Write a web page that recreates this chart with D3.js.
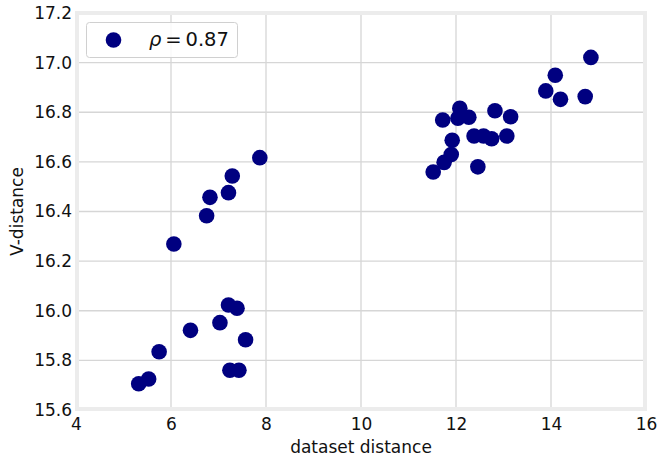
<!DOCTYPE html>
<html>
<head>
<meta charset="utf-8">
<script src="https://cdn.jsdelivr.net/npm/d3@7"></script>
<style>
  body { margin: 0; background: #fff; }
  text { font-family: "DejaVu Sans", sans-serif; fill: #111; }
</style>
</head>
<body>
<div id="chart"></div>
<script>
const xVals = [
  5.32, 5.53, 5.75, 6.06, 6.41, 6.75, 6.82, 7.03, 7.21, 7.21, 7.24, 7.29, 7.39, 7.43, 7.57, 7.87,
  11.52, 11.75, 11.90, 11.92, 11.72, 12.04, 12.08, 12.27, 12.38, 12.58, 12.75, 12.46, 12.82, 13.07,
  13.15, 13.89, 14.09, 14.20, 14.72, 14.84
];
const yVals = [
  15.706, 15.725, 15.835, 16.269, 15.921, 16.383, 16.457, 15.952, 16.476, 16.023, 15.760, 16.543, 16.010, 15.760, 15.883, 16.617,
  16.559, 16.598, 16.630, 16.687, 16.769, 16.776, 16.816, 16.780, 16.704, 16.704, 16.693, 16.580, 16.806, 16.704,
  16.782, 16.886, 16.949, 16.852, 16.863, 17.021
];
const xTicks = [4, 6, 8, 10, 12, 14, 16];
const yTicks = [15.6, 15.8, 16.0, 16.2, 16.4, 16.6, 16.8, 17.0, 17.2];
const legendLabel = '0.87';

const W = 657, H = 460;
const svg = d3.select('#chart').append('svg')
  .attr('width', W)
  .attr('height', H);

const x = d3.scaleLinear().domain([4, 16]).range([76, 646]);
const y = d3.scaleLinear().domain([15.6, 17.2]).range([410, 13]);

const gGrid = svg.append('g');
xTicks.forEach((t) => {
  gGrid.append('line')
    .attr('x1', x(t)).attr('x2', x(t))
    .attr('y1', y.range()[0]).attr('y2', y.range()[1])
    .attr('stroke', '#d6d6d6')
    .attr('stroke-width', 1.3);
});
yTicks.forEach((t) => {
  gGrid.append('line')
    .attr('x1', x.range()[0]).attr('x2', x.range()[1])
    .attr('y1', y(t)).attr('y2', y(t))
    .attr('stroke', '#d6d6d6')
    .attr('stroke-width', 1.3);
});

// frame
svg.append('rect')
  .attr('x', x.range()[0] + 1)
  .attr('y', y.range()[1])
  .attr('width', x.range()[1] - x.range()[0] - 2)
  .attr('height', y.range()[0] - y.range()[1] - 1)
  .attr('fill', 'none')
  .attr('stroke', '#ececec')
  .attr('stroke-width', 4);

// tick labels
const gX = svg.append('g')
  .attr('transform', `translate(0,${y.range()[0] + 7})`)
  .call(d3.axisBottom(x).tickValues(xTicks).tickFormat(d3.format('d')).tickSize(0).tickPadding(0));
const gY = svg.append('g')
  .attr('transform', `translate(${x.range()[0] - 4},0)`)
  .call(d3.axisLeft(y).tickValues(yTicks).tickFormat(d3.format('.1f')).tickSize(0).tickPadding(0));
[gX, gY].forEach((g) => {
  g.select('.domain').remove();
  g.selectAll('text')
    .attr('font-size', 17)
    .attr('font-family', '"DejaVu Sans", sans-serif')
    .attr('fill', '#111');
});
gY.selectAll('text').attr('dy', '0.32em');
gX.selectAll('text').attr('dy', '0.78em');

// points
svg.append('g').selectAll('circle')
  .data(xVals.map((v, i) => [v, yVals[i]]))
  .join('circle')
  .attr('cx', (d) => x(d[0]))
  .attr('cy', (d) => y(d[1]))
  .attr('r', 7.8)
  .attr('fill', '#000080');

// axis titles
svg.append('text')
  .attr('x', (x.range()[0] + x.range()[1]) / 2)
  .attr('y', 453)
  .attr('text-anchor', 'middle')
  .attr('font-size', 17)
  .text('dataset distance');

svg.append('text')
  .attr('transform', `translate(23,${(y.range()[0] + y.range()[1]) / 2}) rotate(-90)`)
  .attr('text-anchor', 'middle')
  .attr('font-size', 17)
  .text('V-distance');

// legend
const lg = svg.append('g');
lg.append('rect')
  .attr('x', 86.5).attr('y', 22.5)
  .attr('width', 151).attr('height', 35)
  .attr('rx', 3)
  .attr('fill', '#fff')
  .attr('fill-opacity', 0.85)
  .attr('stroke', '#d0d0d0');
lg.append('circle')
  .attr('cx', 113.5).attr('cy', 40)
  .attr('r', 7.8)
  .attr('fill', '#000080');
const lt = lg.append('text')
  .attr('x', 149).attr('y', 46)
  .attr('font-size', 19.5);
lt.append('tspan').attr('font-style', 'italic').text('ρ');
lt.append('tspan').text('\u2009=\u2009' + legendLabel);
</script>
</body>
</html>
